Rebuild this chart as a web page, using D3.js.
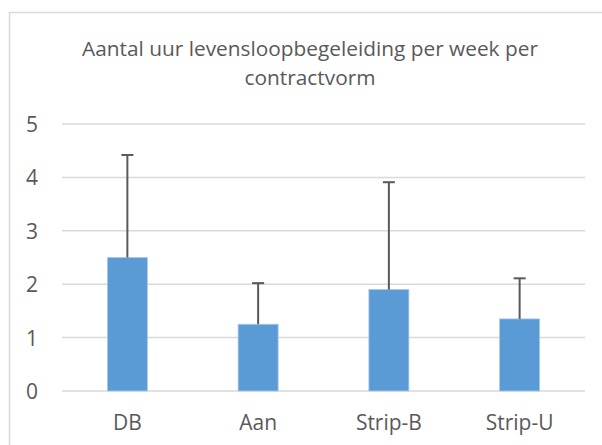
<!DOCTYPE html>
<html>
<head>
<meta charset="utf-8">
<script src="https://cdn.jsdelivr.net/npm/d3@7/dist/d3.min.js"></script>
<style>
  html, body { margin: 0; padding: 0; background: #ffffff; }
  svg { display: block; }
  text { font-family: "Open Sans", sans-serif; fill: #595959; }
</style>
</head>
<body>
<svg id="chart" width="602" height="445"></svg>
<script>
const titleLines = ["Aantal uur levensloopbegeleiding per week per", "contractvorm"];
const categories = ["DB", "Aan", "Strip-B", "Strip-U"];
const means = [2.5, 1.25, 1.9, 1.35];
const errPlus = [1.92, 0.77, 2.01, 0.76];
const yTicks = [0, 1, 2, 3, 4, 5];

const svg = d3.select("#chart");
const W = 602, H = 445;
const plot = { left: 62, right: 585, top: 124, bottom: 391 };

// outer chart border (extends past the right/bottom edge)
svg.append("rect")
  .attr("x", 9.5).attr("y", 12.5)
  .attr("width", 700).attr("height", 500)
  .attr("fill", "#ffffff")
  .attr("stroke", "#d9d9d9").attr("stroke-width", 1.5);

const x = d3.scaleBand()
  .domain(categories)
  .range([plot.left, plot.right])
  .paddingInner(0.694)
  .paddingOuter(0.347);

const y = d3.scaleLinear().domain([0, 5]).range([plot.bottom, plot.top]);

// gridlines
svg.append("g").selectAll("line").data(yTicks).join("line")
  .attr("x1", plot.left).attr("x2", plot.right)
  .attr("y1", d => y(d)).attr("y2", d => y(d))
  .attr("stroke", "#d9d9d9").attr("stroke-width", 1.5);

// helper to fit font size to a target width
function fitSize(text, target, base) {
  const t = svg.append("text").attr("font-size", base).text(text);
  const w = t.node().getComputedTextLength();
  t.remove();
  return base * target / w;
}

const labelSize = fitSize("Strip-B", 66, 20);
const titleSize = fitSize(titleLines[0], 456, 20);

// y-axis labels
const yAxis = d3.axisLeft(y).tickValues(yTicks).tickSize(0).tickPadding(0).tickFormat(d3.format("d"));
const gy = svg.append("g").attr("transform", `translate(38,0)`).call(yAxis);
gy.select(".domain").remove();
gy.selectAll("text")
  .attr("font-size", labelSize)
  .attr("font-family", "Open Sans, sans-serif")
  .attr("fill", "#595959")
  .attr("dy", "0.36em");

// x-axis labels
const xAxis = d3.axisBottom(x).tickSize(0).tickPadding(0);
const gx = svg.append("g").attr("transform", `translate(0,430)`).call(xAxis);
gx.select(".domain").remove();
gx.selectAll("text")
  .attr("font-size", labelSize)
  .attr("font-family", "Open Sans, sans-serif")
  .attr("fill", "#595959")
  .attr("y", 0).attr("dy", 0);

// bars
svg.append("g").selectAll("rect").data(categories).join("rect")
  .attr("x", d => x(d))
  .attr("width", x.bandwidth())
  .attr("y", (d, i) => y(means[i]))
  .attr("height", (d, i) => y(0) - y(means[i]))
  .attr("fill", "#5b9bd5")
  .attr("stroke", "#a9c9ea")
  .attr("stroke-width", 0.8);

// error bars (plus direction only)
const eg = svg.append("g").attr("stroke", "#595959").attr("stroke-width", 2);
categories.forEach((c, i) => {
  const cx = x(c) + x.bandwidth() / 2;
  const top = y(means[i] + errPlus[i]);
  eg.append("line").attr("x1", cx).attr("x2", cx)
    .attr("y1", y(means[i])).attr("y2", top);
  eg.append("line").attr("x1", cx - 6).attr("x2", cx + 6)
    .attr("y1", top).attr("y2", top);
});

// title
const title = svg.append("text")
  .attr("text-anchor", "middle")
  .attr("font-size", titleSize);
titleLines.forEach((l, i) => {
  title.append("tspan").attr("x", 310).attr("y", 56 + i * 28.5).text(l);
});
</script>
</body>
</html>
